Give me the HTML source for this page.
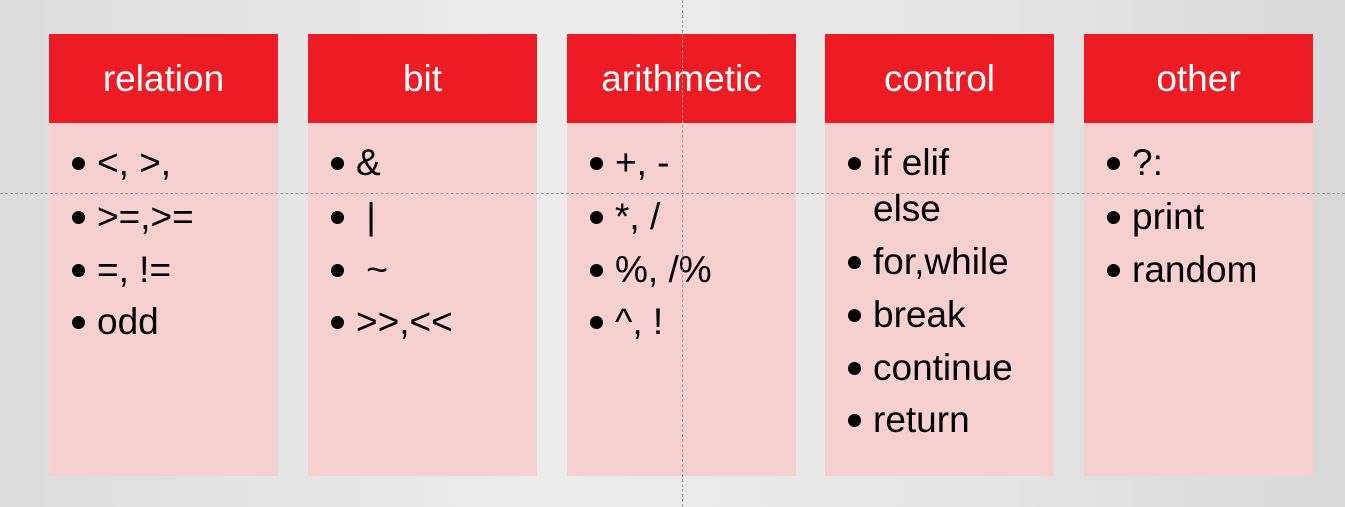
<!DOCTYPE html>
<html><head><style>
body{margin:0;width:1345px;height:507px;overflow:hidden;background:linear-gradient(90deg,#dcdcdc,#ececec 40%,#e6e6e6 70%,#d8d8d8);font-family:"Liberation Sans",sans-serif;position:relative}
.col{position:absolute;top:34px;width:229px;height:442px;background:#f6cfcf}
.hd{height:89px;background:#ed1c24;color:#fff;font-size:37px;text-align:center;line-height:89px}
.li{position:absolute;left:48px;font-size:37px;color:#000;line-height:36px;white-space:pre}
.li:before{content:"";position:absolute;left:-25px;top:12px;width:13px;height:13px;border-radius:50%;background:#000}
.li.nb:before{display:none}
.v{position:absolute;left:682px;top:0;height:507px;border-left:1px dashed #999}
.h{position:absolute;top:193px;left:0;width:1345px;border-top:1px dashed #999}
</style></head><body>
<div class="col" style="left:49px"><div class="hd">relation</div>
<div class="li" style="top:111px">&lt;, &gt;,</div><div class="li" style="top:165px">&gt;=,&gt;=</div><div class="li" style="top:218px">=, !=</div><div class="li" style="top:270px">odd</div></div>
<div class="col" style="left:308px"><div class="hd">bit</div>
<div class="li" style="top:111px">&amp;</div><div class="li" style="top:165px"> |</div><div class="li" style="top:218px"> ~</div><div class="li" style="top:270px">&gt;&gt;,&lt;&lt;</div></div>
<div class="col" style="left:567px"><div class="hd">arithmetic</div>
<div class="li" style="top:111px">+, -</div><div class="li" style="top:165px">*, /</div><div class="li" style="top:218px">%, /%</div><div class="li" style="top:270px">^, !</div></div>
<div class="col" style="left:825px"><div class="hd">control</div>
<div class="li" style="top:111px">if elif</div><div class="li nb" style="top:157px">else</div><div class="li" style="top:210px">for,while</div><div class="li" style="top:263px">break</div><div class="li" style="top:316px">continue</div><div class="li" style="top:368px">return</div></div>
<div class="col" style="left:1084px"><div class="hd">other</div>
<div class="li" style="top:111px">?:</div><div class="li" style="top:165px">print</div><div class="li" style="top:218px">random</div></div>
<div class="v"></div><div class="h"></div>
</body></html>
